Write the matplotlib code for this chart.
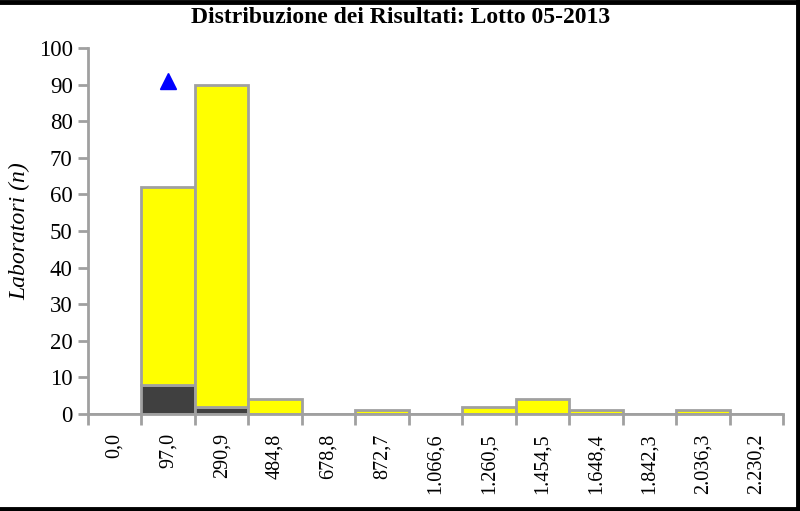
import matplotlib.pyplot as plt
from matplotlib.lines import Line2D

# Class limits (lower bound of each histogram bin)
classi = ["0,0", "97,0", "290,9", "484,8", "678,8", "872,7", "1.066,6",
          "1.260,5", "1.454,5", "1.648,4", "1.842,3", "2.036,3", "2.230,2"]
# Laboratories per class: outside range (dark) and total
fuori = [0, 8, 2, 0, 0, 0, 0, 0, 0, 0, 0, 0, 0]
totale = [0, 62, 90, 4, 0, 1, 0, 2, 4, 1, 0, 1, 0]
# Reference value marker
rif_classe = 1
rif_valore = 91

plt.rcParams['font.family'] = ['Liberation Serif', 'DejaVu Serif']

fig = plt.figure(figsize=(8, 5.11), dpi=100)
ax = fig.add_axes([0.11, 0.19, 0.869, 0.716])

x = list(range(len(classi)))
dentro = [t - f for t, f in zip(totale, fuori)]
edge = '#a0a0a0'

ax.bar(x, fuori, width=1.0, color='#404040', edgecolor=edge, linewidth=2, zorder=2)
ax.bar(x, dentro, width=1.0, bottom=fuori, color='#ffff00', edgecolor=edge,
       linewidth=2, zorder=2)
ax.plot([rif_classe], [rif_valore], marker='^', color='#0000ff', markersize=11,
        linestyle='none', zorder=3, clip_on=False)

ax.set_xlim(-0.5, len(classi) - 0.5)
ax.set_ylim(0, 100)
ax.set_yticks(range(0, 101, 10))
ax.tick_params(axis='y', labelsize=16.5, length=7, width=2, color=edge, pad=4)

# tick marks at bin edges, labels at bin centres
ax.set_xticks([i - 0.5 for i in range(len(classi) + 1)])
ax.set_xticklabels([])
ax.tick_params(axis='x', which='major', length=8, width=2, color=edge)
ax.set_xticks(x, minor=True)
ax.set_xticklabels(classi, minor=True, rotation=90, fontsize=14.5)
ax.tick_params(axis='x', which='minor', length=0, pad=14)

for s in ['top', 'right']:
    ax.spines[s].set_visible(False)
for s in ['left', 'bottom']:
    ax.spines[s].set_color(edge)
    ax.spines[s].set_linewidth(2)
    ax.spines[s].set_zorder(4)

ax.set_ylabel('Laboratori (n)', fontsize=17, fontstyle='italic', labelpad=6)
fig.text(0.501, 0.965, 'Distribuzione dei Risultati: Lotto 05-2013',
         ha='center', va='center', fontsize=17, fontweight='bold')

# frame on top, right and bottom
for xs, ys in [([0, 1], [0.997, 0.997]), ([0.9975, 0.9975], [0, 1]), ([0, 1], [0.003, 0.003])]:
    fig.add_artist(Line2D(xs, ys, color='black', linewidth=3.5, transform=fig.transFigure))

plt.savefig('out.png', dpi=100, facecolor='white')
plt.close()
